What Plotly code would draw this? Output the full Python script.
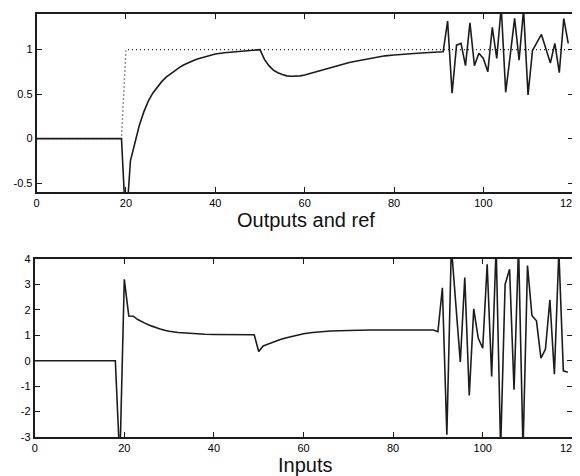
import plotly.graph_objects as go
from plotly.subplots import make_subplots

# ---- data ----
time_out = [0, 19, 20, 21, 22, 23, 24, 25, 26, 27, 28, 29, 30, 31, 32, 33, 34, 35, 36, 37, 38, 39, 40,
            42, 44, 46, 48, 50, 51, 52, 53, 54, 55, 56, 57, 58, 59, 60, 62, 64, 66, 68, 70, 72, 74, 76,
            78, 80, 82, 84, 86, 88, 90, 91,
            92, 93, 94, 95, 96, 97, 98, 99, 100, 101, 102, 103, 104, 105, 106, 107, 108, 109, 110,
            111, 112, 113, 114, 115, 116, 117, 118, 119]
output = [0, 0, -1.0, -0.25, -0.05, 0.15, 0.30, 0.42, 0.51, 0.58, 0.64, 0.69, 0.73, 0.77, 0.80, 0.83,
          0.855, 0.875, 0.895, 0.91, 0.925, 0.94, 0.95,
          0.965, 0.975, 0.985, 0.99, 1.0, 0.89, 0.82, 0.77, 0.74, 0.72, 0.705, 0.70, 0.70, 0.705, 0.715,
          0.74, 0.77, 0.80, 0.83, 0.855, 0.875, 0.895, 0.915, 0.93, 0.94, 0.95, 0.955, 0.962, 0.968,
          0.972, 0.975,
          1.32, 0.51, 1.05, 1.07, 0.82, 1.30, 0.82, 0.96, 0.90, 0.75, 1.25, 0.90, 1.48, 0.52, 0.93,
          1.35, 0.88, 1.45, 0.49, 0.99, 1.08, 1.17, 1.01, 0.85, 1.07, 0.74, 1.35, 1.07]

time_ref = [0, 19, 20, 120]
reference = [0, 0, 1, 1]

time_in = [0, 18, 19, 20, 21, 22, 23, 24, 25, 26, 27, 28, 29, 30, 32, 34, 36, 38, 40, 44, 49,
           50, 51, 52, 53, 54, 55, 56, 57, 58, 59, 60, 62, 64, 66, 70, 75, 89,
           90, 91, 92, 93, 94, 95, 96, 97, 98, 99, 100, 101, 102, 103, 104, 105, 106, 107, 108,
           109, 110, 111, 112, 113, 114, 115, 116, 117, 118, 119]
inputs = [0, 0, -4.0, 3.2, 1.76, 1.75, 1.62, 1.52, 1.44, 1.37, 1.30, 1.25, 1.20, 1.16, 1.11, 1.08,
          1.05, 1.04, 1.03, 1.02, 1.02,
          0.36, 0.58, 0.65, 0.72, 0.78, 0.84, 0.89, 0.94, 0.98, 1.02, 1.06, 1.11, 1.15, 1.17, 1.19,
          1.21, 1.21,
          1.14, 2.87, -2.91, 4.5, 2.2, -0.05, 3.27, -1.37, 2.04, 0.89, 0.49, 3.79, -0.62, 4.5, -3.5,
          3.0, 3.6, -1.14, 4.5, -3.5, 3.74, 1.77, 1.57, 0.1, 0.45, 2.39, -0.53, 4.3, -0.4, -0.45]

x_ticks = [0, 20, 40, 60, 80, 100, 120]
x_tick_text = ["0", "20", "40", "60", "80", "100", ""]   # "120" is drawn at the page edge below
last_x_label = "120"
y_ticks_top = [-0.5, 0, 0.5, 1]
y_ticks_bottom = [-3, -2, -1, 0, 1, 2, 3, 4]
title_top = "Outputs and ref"
title_bottom = "Inputs"

# ---- figure ----
# the page body has an 8px default margin, so the figure is drawn 8px smaller
OFF = 8
W, H = 580 - OFF, 476 - OFF
ML, MR, MT, MB = 26, 1, 6, 31
plot_w = W - ML - MR
plot_h = H - MT - MB


def fx(px):
    return (px - OFF - ML) / plot_w


def fy(py):
    return (H - MB - (py - OFF)) / plot_h


def dom(a, b):
    return [min(1.0, max(0.0, a)), min(1.0, max(0.0, b))]


fig = make_subplots(rows=2, cols=1)

ink = "#1c1c1c"
fig.add_trace(go.Scatter(x=time_ref, y=reference, mode="lines",
                         line=dict(color=ink, width=1.4, dash="1px,3px"),
                         showlegend=False), row=1, col=1)
fig.add_trace(go.Scatter(x=time_out, y=output, mode="lines",
                         line=dict(color=ink, width=1.6), showlegend=False), row=1, col=1)
fig.add_trace(go.Scatter(x=time_in, y=inputs, mode="lines",
                         line=dict(color=ink, width=1.6), showlegend=False), row=2, col=1)

tick_font = dict(family="Liberation Sans, Arial, sans-serif", size=11, color="#000")
axis_common = dict(showline=True, linecolor=ink, linewidth=1.8, mirror="ticks",
                   ticks="inside", ticklen=5, tickwidth=1.2, tickcolor=ink,
                   showgrid=False, zeroline=False, tickfont=tick_font)

title_font = dict(family="Liberation Sans, Arial, sans-serif", size=20, color="#111")

fig.update_layout(
    width=W, height=H,
    margin=dict(l=ML, r=MR, t=MT, b=MB),
    paper_bgcolor="white", plot_bgcolor="white",
    xaxis=dict(domain=dom(fx(36.6), fx(572.7)), range=[0, 120], tickvals=x_ticks,
               ticktext=x_tick_text, ticklabelstandoff=0, **axis_common),
    yaxis=dict(domain=dom(fy(192), fy(14)), range=[-0.6, 1.4], tickvals=y_ticks_top,
               ticktext=["-0.5", "0", "0.5", "1"], **axis_common),
    xaxis2=dict(domain=dom(fx(34.7), fx(572.3)), range=[0, 120], tickvals=x_ticks,
                ticktext=x_tick_text, ticklabelstandoff=0, **axis_common),
    yaxis2=dict(domain=dom(fy(437), fy(259)), range=[-3, 4], tickvals=y_ticks_bottom,
                ticktext=["-3", "-2", "-1", "0", "1", "2", "3", "4"], **axis_common),
    annotations=[
        dict(text=title_top, xref="paper", yref="paper", x=fx(306), y=fy(220),
             xanchor="center", yanchor="middle", showarrow=False, font=title_font),
        dict(text=title_bottom, xref="paper", yref="paper", x=fx(305), y=fy(465),
             xanchor="center", yanchor="middle", showarrow=False, font=title_font),
        dict(text=last_x_label, xref="paper", yref="y domain", x=fx(580), y=0,
             xanchor="right", yanchor="top", yshift=-3, showarrow=False, font=tick_font),
        dict(text=last_x_label, xref="paper", yref="y2 domain", x=fx(580), y=0,
             xanchor="right", yanchor="top", yshift=-3, showarrow=False, font=tick_font),
    ],
)

fig.write_html("out.html")
